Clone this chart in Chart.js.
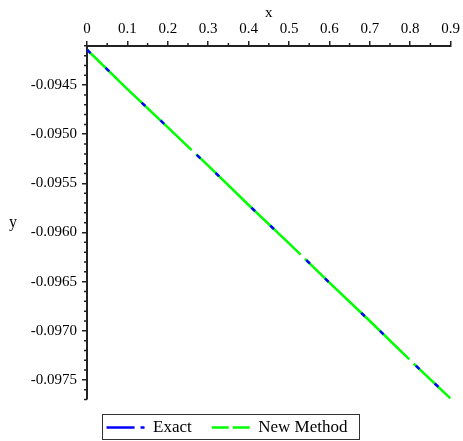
<!DOCTYPE html>
<html>
<head>
<meta charset="utf-8">
<script src="https://cdn.jsdelivr.net/npm/chart.js@4.4.1/dist/chart.umd.min.js"></script>
<style>
  html, body { margin: 0; padding: 0; background: #fff; }
</style>
</head>
<body>
<canvas id="solutionChart" width="463" height="441"></canvas>
<script>
// values
const xValues = [0, 0.1, 0.2, 0.3, 0.4, 0.5, 0.6, 0.7, 0.8, 0.9];
const exactValues = [-0.09414, -0.09454, -0.09493, -0.09532, -0.09572, -0.09611, -0.09651, -0.09690, -0.09730, -0.09769];
const newMethodValues = [-0.09414, -0.09454, -0.09493, -0.09532, -0.09572, -0.09611, -0.09651, -0.09690, -0.09730, -0.09769];
const seriesNames = ['Exact', 'New Method'];
const xTicks = [0, 0.1, 0.2, 0.3, 0.4, 0.5, 0.6, 0.7, 0.8, 0.9];
const yTicks = [-0.0945, -0.0950, -0.0955, -0.0960, -0.0965, -0.0970, -0.0975];

const serif = '"Liberation Serif", "Times New Roman", serif';
const axisColor = '#222';
const legendDashes = [[28, 6, 4, 20], [17, 4]];

// short minor ticks, y title and legend frame
const extras = {
    id: 'extras',
    afterDraw(chart) {
        const ctx = chart.ctx;
        const xs = chart.scales.x, ys = chart.scales.y;
        const area = chart.chartArea;
        ctx.save();
        ctx.strokeStyle = axisColor;
        ctx.lineWidth = 1.5;
        ctx.beginPath();
        for (let i = 0; i < 9; i++) {
            const px = xs.getPixelForValue(i * 0.1 + 0.05);
            ctx.moveTo(px, area.top);
            ctx.lineTo(px, area.top - 3);
        }
        for (let k = -977; k <= -941; k++) {
            if (k % 5 === 0) continue;
            const py = ys.getPixelForValue(k / 10000);
            ctx.moveTo(area.left, py);
            ctx.lineTo(area.left - 3, py);
        }
        ctx.stroke();

        ctx.fillStyle = '#000';
        ctx.font = '16px ' + serif;
        ctx.textAlign = 'center';
        ctx.textBaseline = 'middle';
        ctx.fillText('y', 13, (area.top + area.bottom) / 2);

        const boxes = chart.legend.legendHitBoxes;
        if (boxes && boxes.length) {
            const first = boxes[0], last = boxes[boxes.length - 1];
            const left = Math.round(first.left - 5);
            const right = Math.round(last.left + last.width + 12);
            const top = Math.round(area.bottom + 15);
            ctx.strokeStyle = '#333';
            ctx.lineWidth = 1;
            ctx.strokeRect(left + 0.5, top + 0.5, right - left, 440 - top - 1);
        }
        ctx.restore();
    }
};

const ctx = document.getElementById('solutionChart').getContext('2d');
const solutionChart = new Chart(ctx, {
    type: 'line',
    data: {
        labels: xValues,
        datasets: [{
            label: seriesNames[0],
            data: xValues.map((x, i) => ({x: x, y: exactValues[i]})),
            borderColor: '#0000ff',
            backgroundColor: '#0000ff',
            borderWidth: 2.5,
            borderDash: [5, 21, 5, 45],
            pointRadius: 0,
            tension: 0,
        }, {
            label: seriesNames[1],
            data: xValues.map((x, i) => ({x: x, y: newMethodValues[i]})),
            borderColor: '#00ff00',
            backgroundColor: '#00ff00',
            borderWidth: 2.5,
            borderDash: [145, 6],
            pointRadius: 0,
            tension: 0,
        }]
    },
    options: {
        responsive: false,
        animation: false,
        layout: {
            // negative bottom lets the legend sit low under the plot
            padding: {left: 0, right: 9, top: 0, bottom: -5}
        },
        scales: {
            x: {
                type: 'linear',
                position: 'top',
                min: 0,
                max: 0.9,
                afterBuildTicks: scale => { scale.ticks = xTicks.map(v => ({value: v})); },
                afterFit: scale => { scale.height = 46; },
                ticks: {
                    color: '#000',
                    font: {family: serif, size: 15},
                    padding: 3,
                    maxRotation: 0,
                    callback: v => String(Number(v.toFixed(1)))
                },
                grid: {
                    drawOnChartArea: false,
                    drawTicks: true,
                    tickLength: 5,
                    color: axisColor,
                    lineWidth: 1.5
                },
                border: {display: true, color: axisColor, width: 2},
                title: {
                    display: true,
                    text: 'x',
                    color: '#000',
                    font: {family: serif, size: 15},
                    padding: {top: 4, bottom: 0}
                }
            },
            y: {
                type: 'linear',
                min: -0.097694,
                max: -0.094102,
                afterBuildTicks: scale => { scale.ticks = yTicks.map(v => ({value: v})); },
                afterFit: scale => { scale.width = 87; },
                ticks: {
                    color: '#000',
                    font: {family: serif, size: 15},
                    padding: 5,
                    callback: v => v.toFixed(4)
                },
                grid: {
                    drawOnChartArea: false,
                    drawTicks: true,
                    tickLength: 5,
                    color: axisColor,
                    lineWidth: 1.5
                },
                border: {display: true, color: axisColor, width: 2}
            }
        },
        plugins: {
            tooltip: {enabled: false},
            legend: {
                position: 'bottom',
                labels: {
                    color: '#000',
                    font: {family: serif, size: 17},
                    usePointStyle: true,
                    pointStyleWidth: 38,
                    padding: 20,
                    generateLabels: chart => chart.data.datasets.map((ds, i) => ({
                        text: ds.label,
                        strokeStyle: ds.borderColor,
                        fillStyle: ds.borderColor,
                        fontColor: '#000',
                        lineWidth: 2.5,
                        lineDash: legendDashes[i],
                        pointStyle: 'line',
                        datasetIndex: i,
                        hidden: false
                    }))
                }
            }
        }
    },
    plugins: [extras]
});
</script>
</body>
</html>
